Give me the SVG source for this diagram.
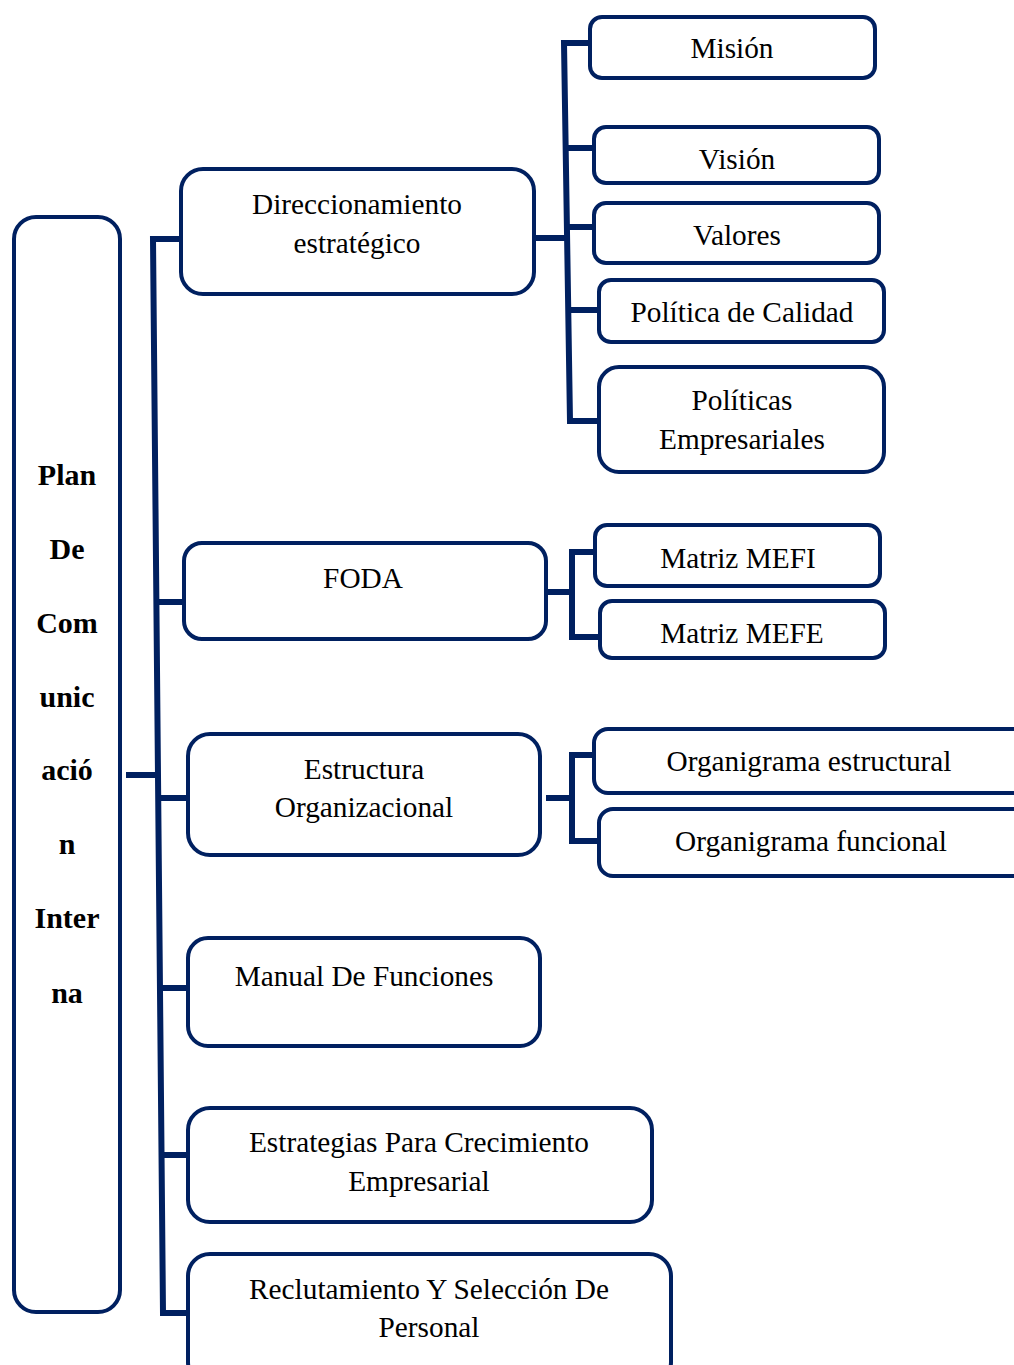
<svg xmlns="http://www.w3.org/2000/svg" width="1014" height="1365" viewBox="0 0 1014 1365">
<style>
.box{fill:#fff;stroke:#002060;stroke-width:4}
.c{fill:none;stroke:#002060;stroke-width:6;stroke-linecap:butt;stroke-linejoin:miter}
text{font-family:"Liberation Serif","Times New Roman",serif;font-size:29.3px;fill:#000;text-anchor:middle}
.b{font-weight:bold;font-size:30px}
</style>
<rect width="1014" height="1365" fill="#fff"/>
<g id="connectors">
<path class="c" d="M182,239 H153 L163,1313 H187"/>
<path class="c" d="M126,775 H156"/>
<path class="c" d="M156,602 H183"/>
<path class="c" d="M158,798 H187"/>
<path class="c" d="M160,988 H187"/>
<path class="c" d="M161,1155 H190"/>
<path class="c" d="M534,238 H566"/>
<path class="c" d="M592,43 H564 L570,421 H600"/>
<path class="c" d="M565,148 H594"/>
<path class="c" d="M566,227 H597"/>
<path class="c" d="M567,310 H599"/>
<path class="c" d="M546,592 H572"/>
<path class="c" d="M599,552 H572 V637 H600"/>
<path class="c" d="M546,798 H572"/>
<path class="c" d="M594,755 H572 V841 H600"/>
</g>
<g id="plan">
<rect class="box" x="14" y="217" width="106" height="1095" rx="22"/>
<text class="b" x="67" y="485">Plan</text>
<text class="b" x="67" y="559">De</text>
<text class="b" x="67" y="633">Com</text>
<text class="b" x="67" y="707">unic</text>
<text class="b" x="67" y="780">ació</text>
<text class="b" x="67" y="854">n</text>
<text class="b" x="67" y="928">Inter</text>
<text class="b" x="67" y="1003">na</text>
</g>
<g id="direccionamiento">
<rect class="box" x="181" y="169" width="353" height="125" rx="22"/>
<text x="357" y="214">Direccionamiento</text>
<text x="357" y="253">estratégico</text>
</g>
<g id="foda">
<rect class="box" x="184" y="543" width="362" height="96" rx="18"/>
<text x="363" y="588">FODA</text>
</g>
<g id="estructura">
<rect class="box" x="188" y="734" width="352" height="121" rx="22"/>
<text x="364" y="779">Estructura</text>
<text x="364" y="817">Organizacional</text>
</g>
<g id="manual">
<rect class="box" x="188" y="938" width="352" height="108" rx="20"/>
<text x="364" y="986">Manual De Funciones</text>
</g>
<g id="estrategias">
<rect class="box" x="188" y="1108" width="464" height="114" rx="22"/>
<text x="419" y="1152">Estrategias Para Crecimiento</text>
<text x="419" y="1191">Empresarial</text>
</g>
<g id="reclutamiento">
<rect class="box" x="188" y="1254" width="483" height="130" rx="22"/>
<text x="429" y="1299">Reclutamiento Y Selección De</text>
<text x="429" y="1337">Personal</text>
</g>
<g id="mision">
<rect class="box" x="590" y="17" width="285" height="61" rx="12"/>
<text x="732" y="58">Misión</text>
</g>
<g id="vision">
<rect class="box" x="594" y="127" width="285" height="56" rx="12"/>
<text x="737" y="169">Visión</text>
</g>
<g id="valores">
<rect class="box" x="594" y="203" width="285" height="60" rx="12"/>
<text x="737" y="245">Valores</text>
</g>
<g id="politica-calidad">
<rect class="box" x="599" y="280" width="285" height="62" rx="12"/>
<text x="742" y="322">Política de Calidad</text>
</g>
<g id="politicas-empresariales">
<rect class="box" x="599" y="367" width="285" height="105" rx="20"/>
<text x="742" y="410">Políticas</text>
<text x="742" y="449">Empresariales</text>
</g>
<g id="mefi">
<rect class="box" x="595" y="525" width="285" height="61" rx="12"/>
<text x="738" y="568">Matriz MEFI</text>
</g>
<g id="mefe">
<rect class="box" x="600" y="601" width="285" height="57" rx="12"/>
<text x="742" y="643">Matriz MEFE</text>
</g>
<g id="org-estructural">
<rect class="box" x="594" y="729" width="440" height="64" rx="14"/>
<text x="809" y="771">Organigrama estructural</text>
</g>
<g id="org-funcional">
<rect class="box" x="599" y="809" width="435" height="67" rx="14"/>
<text x="811" y="851">Organigrama funcional</text>
</g>
</svg>
